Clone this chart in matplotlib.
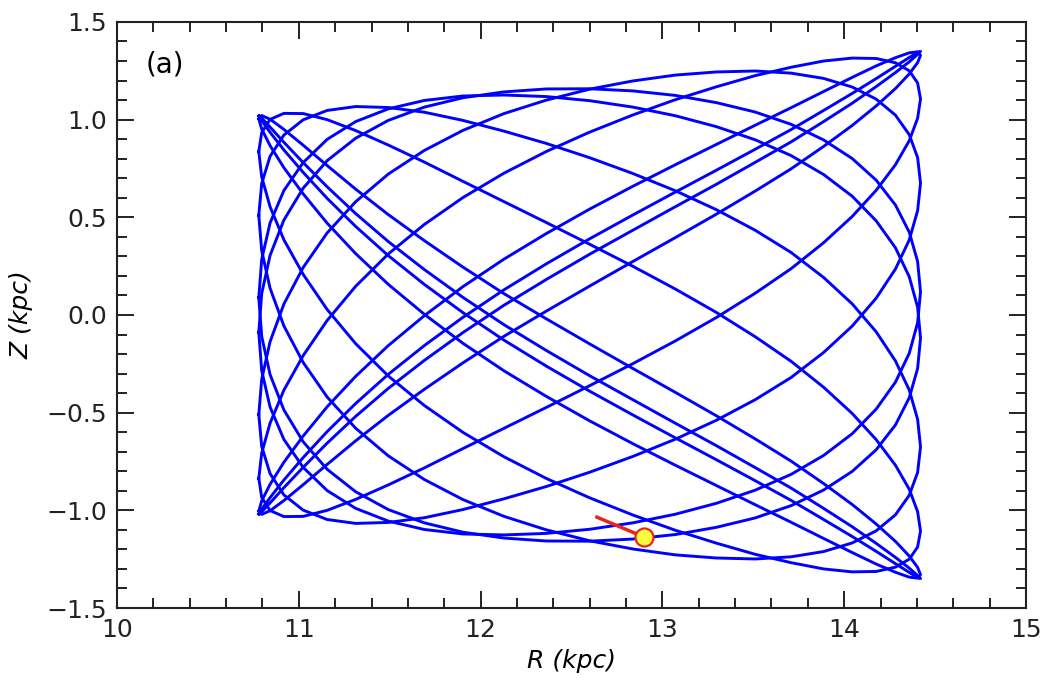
import matplotlib.pyplot as plt
import numpy as np

# R (kpc) along one radial oscillation, shared by every loop of the orbit
orbit_r = [10.780, 10.796, 10.842, 10.918, 11.024, 11.156, 11.313, 11.492, 11.690, 11.903,
           12.129, 12.362, 12.600, 12.838, 13.071, 13.297, 13.510, 13.708, 13.887, 14.044,
           14.176, 14.282, 14.358, 14.404, 14.420, 14.404, 14.358, 14.282, 14.176, 14.044,
           13.887, 13.708, 13.510, 13.297, 13.071, 12.838, 12.600, 12.362, 12.129, 11.903,
           11.690, 11.492, 11.313, 11.156, 11.024, 10.918, 10.842, 10.796]

# Z (kpc) of each loop at the same points
loop_1 = [1.019, 0.994, 0.935, 0.845, 0.730, 0.597, 0.453, 0.304, 0.157, 0.012,
          -0.129, -0.262, -0.390, -0.512, -0.629, -0.741, -0.848, -0.949, -1.047, -1.134,
          -1.210, -1.273, -1.318, -1.344, -1.349, -1.334, -1.296, -1.241, -1.169, -1.084,
          -0.990, -0.886, -0.781, -0.669, -0.554, -0.434, -0.311, -0.182, -0.050, 0.090,
          0.233, 0.376, 0.519, 0.656, 0.780, 0.884, 0.962, 1.008]
loop_2 = [1.004, 0.952, 0.867, 0.754, 0.620, 0.470, 0.314, 0.157, 0.004, -0.145,
          -0.286, -0.417, -0.542, -0.659, -0.769, -0.873, -0.971, -1.061, -1.144, -1.216,
          -1.275, -1.317, -1.342, -1.347, -1.329, -1.292, -1.234, -1.159, -1.070, -0.970,
          -0.863, -0.748, -0.634, -0.516, -0.396, -0.274, -0.148, -0.020, 0.109, 0.245,
          0.381, 0.514, 0.644, 0.765, 0.869, 0.950, 1.002, 1.021]
loop_3 = [0.836, 0.707, 0.554, 0.385, 0.208, 0.028, -0.147, -0.312, -0.463, -0.601,
          -0.726, -0.837, -0.936, -1.024, -1.102, -1.168, -1.225, -1.268, -1.300, -1.315,
          -1.313, -1.291, -1.250, -1.188, -1.106, -1.007, -0.892, -0.769, -0.638, -0.504,
          -0.370, -0.237, -0.111, 0.013, 0.133, 0.249, 0.362, 0.473, 0.580, 0.684,
          0.783, 0.870, 0.944, 1.000, 1.031, 1.032, 1.001, 0.934]
loop_4 = [0.510, 0.329, 0.137, -0.056, -0.243, -0.420, -0.580, -0.721, -0.842, -0.945,
          -1.031, -1.100, -1.156, -1.198, -1.228, -1.244, -1.249, -1.238, -1.211, -1.167,
          -1.105, -1.023, -0.923, -0.806, -0.675, -0.534, -0.384, -0.235, -0.086, 0.057,
          0.192, 0.320, 0.434, 0.539, 0.636, 0.724, 0.805, 0.878, 0.941, 0.996,
          1.038, 1.062, 1.067, 1.047, 0.999, 0.921, 0.812, 0.673]
loop_5 = [0.089, -0.110, -0.305, -0.486, -0.649, -0.790, -0.905, -0.996, -1.064, -1.112,
          -1.142, -1.157, -1.158, -1.147, -1.124, -1.087, -1.039, -0.976, -0.896, -0.801,
          -0.690, -0.563, -0.424, -0.274, -0.118, 0.040, 0.196, 0.344, 0.482, 0.608,
          0.719, 0.816, 0.897, 0.964, 1.020, 1.064, 1.097, 1.118, 1.126, 1.121,
          1.098, 1.055, 0.990, 0.899, 0.780, 0.637, 0.471, 0.285]
loop_6 = [-0.089, 0.110, 0.305, 0.486, 0.649, 0.790, 0.905, 0.996, 1.064, 1.112,
          1.142, 1.157, 1.158, 1.147, 1.124, 1.087, 1.039, 0.976, 0.896, 0.801,
          0.690, 0.563, 0.424, 0.274, 0.118, -0.040, -0.196, -0.344, -0.482, -0.608,
          -0.719, -0.816, -0.897, -0.964, -1.020, -1.064, -1.097, -1.118, -1.126, -1.121,
          -1.098, -1.055, -0.990, -0.899, -0.780, -0.637, -0.471, -0.285]
loop_7 = [-0.510, -0.329, -0.137, 0.056, 0.243, 0.420, 0.580, 0.721, 0.842, 0.945,
          1.031, 1.100, 1.156, 1.198, 1.228, 1.244, 1.249, 1.238, 1.211, 1.167,
          1.105, 1.023, 0.923, 0.806, 0.675, 0.534, 0.384, 0.235, 0.086, -0.057,
          -0.192, -0.320, -0.434, -0.539, -0.636, -0.724, -0.805, -0.878, -0.941, -0.996,
          -1.038, -1.062, -1.067, -1.047, -0.999, -0.921, -0.812, -0.673]
loop_8 = [-0.836, -0.707, -0.554, -0.385, -0.208, -0.028, 0.147, 0.312, 0.463, 0.601,
          0.726, 0.837, 0.936, 1.024, 1.102, 1.168, 1.225, 1.268, 1.300, 1.315,
          1.313, 1.291, 1.250, 1.188, 1.106, 1.007, 0.892, 0.769, 0.638, 0.504,
          0.370, 0.237, 0.111, -0.013, -0.133, -0.249, -0.362, -0.473, -0.580, -0.684,
          -0.783, -0.870, -0.944, -1.000, -1.031, -1.032, -1.001, -0.934]
loop_9 = [-1.004, -0.952, -0.867, -0.754, -0.620, -0.470, -0.314, -0.157, -0.004, 0.145,
          0.286, 0.417, 0.542, 0.659, 0.769, 0.873, 0.971, 1.061, 1.144, 1.216,
          1.275, 1.317, 1.342, 1.347, 1.329, 1.292, 1.234, 1.159, 1.070, 0.970,
          0.863, 0.748, 0.634, 0.516, 0.396, 0.274, 0.148, 0.020, -0.109, -0.245,
          -0.381, -0.514, -0.644, -0.765, -0.869, -0.950, -1.002, -1.021]
loop_10 = [-1.019, -0.994, -0.935, -0.845, -0.730, -0.597, -0.453, -0.304, -0.157, -0.012,
           0.129, 0.262, 0.390, 0.512, 0.629, 0.741, 0.848, 0.949, 1.047, 1.134,
           1.210, 1.273, 1.318, 1.344, 1.349, 1.334, 1.296, 1.241, 1.169, 1.084,
           0.990, 0.886, 0.781, 0.669, 0.554, 0.434, 0.311, 0.182, 0.050, -0.090,
           -0.233, -0.376, -0.519, -0.656, -0.780, -0.884, -0.962, -1.008]
loops = [loop_1, loop_2, loop_3, loop_4, loop_5, loop_6, loop_7, loop_8, loop_9, loop_10]

# short recent track and current position
trail_r = [12.64, 12.90]
trail_z = [-1.035, -1.137]
now_r = 12.90
now_z = -1.137

plt.rcParams['font.family'] = 'DejaVu Sans'
plt.rcParams['font.size'] = 18

fig = plt.figure(figsize=(10.40, 6.86), dpi=100)
ax = fig.add_axes([0.1125, 0.1137, 0.874, 0.8543])

for z in loops:
    ax.plot(orbit_r + orbit_r[:1], z + z[:1], color='#0000ff', lw=2.1, solid_joinstyle='round')

ax.plot(trail_r, trail_z, color='#e8251b', lw=2.5)
ax.plot(now_r, now_z, 'o', ms=13, mfc='#ffff40', mec='#e8251b', mew=1.6)

ax.set_xlim(10, 15)
ax.set_ylim(-1.5, 1.5)
ax.set_xticks([10, 11, 12, 13, 14, 15])
ax.set_yticks([-1.5, -1.0, -0.5, 0.0, 0.5, 1.0, 1.5])
ax.set_xticks(np.arange(10, 15.01, 0.2), minor=True)
ax.set_yticks(np.arange(-1.5, 1.51, 0.1), minor=True)
ax.tick_params(which='both', direction='in', top=True, right=True, width=1.4, colors='#222222')
ax.tick_params(which='major', length=12, pad=7)
ax.tick_params(which='minor', length=7)
for sp in ax.spines.values():
    sp.set_linewidth(1.5)
    sp.set_color('#222222')

ax.set_xlabel('R (kpc)', style='italic', labelpad=5)
ax.set_ylabel('Z (kpc)', style='italic', labelpad=9)
ax.text(0.031, 0.927, '(a)', transform=ax.transAxes, va='center', ha='left', fontsize=20)

fig.savefig('out.png', dpi=100)
